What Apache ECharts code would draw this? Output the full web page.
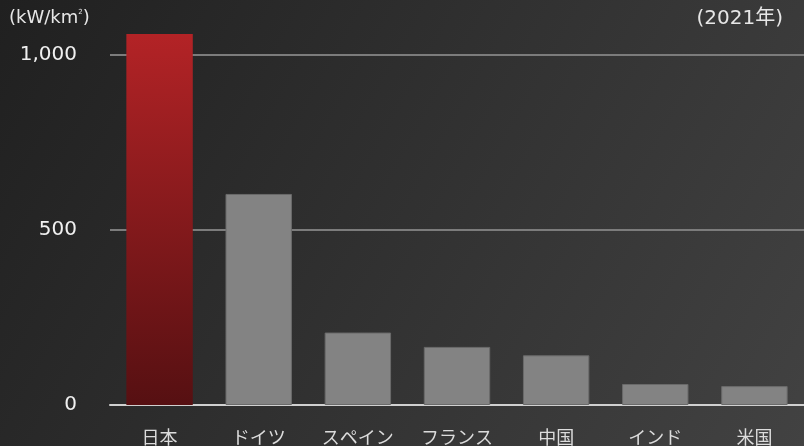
<!DOCTYPE html>
<html>
<head>
<meta charset="utf-8">
<script src="https://cdn.jsdelivr.net/npm/echarts@6/dist/echarts.min.js"></script>
<style>
  html, body { margin: 0; padding: 0; background: #2a2a2a; }
  #chart { width: 804px; height: 446px; }
</style>
</head>
<body>
<div id="chart"></div>
<script>
var countries = ['日本', 'ドイツ', 'スペイン', 'フランス', '中国', 'インド', '米国'];
var capacity = [1060, 603, 207, 166, 142, 60, 54];
var yTicks = [0, 500, 1000];

var font = '"DejaVu Sans", "Noto Sans CJK JP", sans-serif';
var myChart = echarts.init(document.getElementById('chart'));

var japanColor = new echarts.graphic.LinearGradient(0, 0, 0, 1, [
    { offset: 0, color: '#b32326' },
    { offset: 1, color: '#561012' }
]);

myChart.setOption({
    backgroundColor: new echarts.graphic.LinearGradient(0, 0, 1, 1, [
        { offset: 0, color: '#202020' },
        { offset: 1, color: '#424242' }
    ]),
    animation: false,
    graphic: [
        {
            type: 'text', left: 9, top: 9,
            style: {
                text: '(kW/km{s|2})',
                fill: '#e6e6e6', fontSize: 18, fontFamily: font,
                rich: { s: { fontSize: 7, verticalAlign: 'top', fill: '#e6e6e6', fontFamily: font } }
            }
        },
        { type: 'text', right: 21, top: 9, style: { text: '(2021年)', fill: '#e6e6e6', fontSize: 20, fontFamily: font } }
    ],
    grid: { left: 110, right: -6, top: 55, bottom: 38, containLabel: false },
    xAxis: {
        type: 'category',
        data: countries,
        axisLine: { lineStyle: { color: '#d0d0d0', width: 2 } },
        axisTick: { show: false },
        axisLabel: { color: '#dcdcdc', fontSize: 18, fontFamily: '"Noto Sans CJK JP", sans-serif', margin: 23 }
    },
    yAxis: {
        type: 'value',
        min: yTicks[0],
        max: yTicks[yTicks.length - 1],
        interval: 500,
        axisLine: { show: false },
        axisTick: { show: false },
        axisLabel: {
            color: '#f0f0f0', fontSize: 20, fontFamily: font, margin: 33,
            formatter: function (v) { return v.toLocaleString('en-US'); }
        },
        splitLine: { lineStyle: { color: '#7c7c7c', width: 2 } }
    },
    series: [{
        type: 'bar',
        clip: false,
        barCategoryGap: '33%',
        data: capacity.map(function (v, i) {
            return {
                value: v,
                itemStyle: i === 0
                    ? { color: japanColor }
                    : { color: '#838383', borderColor: '#6a6a6a', borderWidth: 1 }
            };
        })
    }]
});
</script>
</body>
</html>
